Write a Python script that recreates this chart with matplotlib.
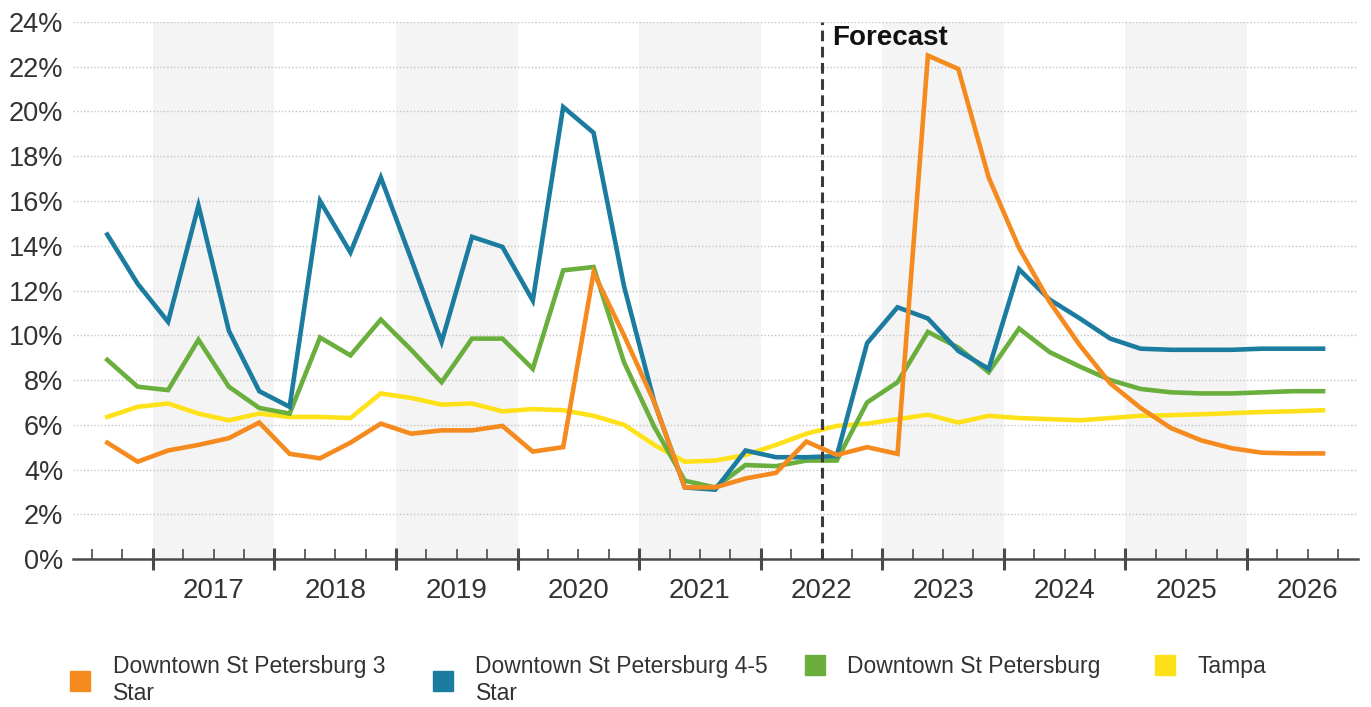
import numpy as np
import matplotlib.pyplot as plt
from matplotlib.lines import Line2D
from matplotlib.ticker import FixedLocator, FixedFormatter, NullFormatter, FuncFormatter

plt.rcParams['font.family'] = ['Liberation Sans', 'DejaVu Sans']

# quarterly vacancy, 2016 Q3 .. 2026 Q3
quarters = [f'{y} Q{q}' for y in range(2016, 2027) for q in range(1, 5)][2:43]

names = ['Downtown St Petersburg 3\nStar',
         'Downtown St Petersburg 4-5\nStar',
         'Downtown St Petersburg',
         'Tampa']
colors = ['#F58A1F', '#1B7CA0', '#6AAF3D', '#FFE11A']

star3 = [5.2, 4.35, 4.85, 5.1, 5.4, 6.1, 4.7, 4.5, 5.2, 6.05,
         5.6, 5.75, 5.75, 5.95, 4.8, 5.0, 12.8, 10.0, 7.0, 3.2,
         3.2, 3.6, 3.85, 5.25, 4.65, 5.0, 4.7, 22.5, 21.9, 17.05,
         13.9, 11.5, 9.55, 7.85, 6.75, 5.85, 5.3, 4.95, 4.75, 4.72, 4.72]
star45 = [14.5, 12.3, 10.6, 15.8, 10.2, 7.5, 6.8, 16.0, 13.7, 17.05,
          13.4, 9.7, 14.4, 13.95, 11.55, 20.2, 19.05, 12.2, 7.0, 3.2,
          3.1, 4.85, 4.55, 4.55, 4.6, 9.65, 11.25, 10.75, 9.3, 8.5,
          12.95, 11.6, 10.75, 9.85, 9.4, 9.35, 9.35, 9.35, 9.4, 9.4, 9.4]
downtown = [8.9, 7.7, 7.55, 9.8, 7.7, 6.75, 6.5, 9.9, 9.1, 10.7,
            9.35, 7.9, 9.85, 9.85, 8.5, 12.9, 13.05, 8.8, 5.9, 3.5,
            3.2, 4.2, 4.15, 4.4, 4.4, 7.0, 7.9, 10.15, 9.45, 8.35,
            10.3, 9.25, 8.6, 8.0, 7.6, 7.45, 7.4, 7.4, 7.45, 7.5, 7.5]
tampa = [6.35, 6.8, 6.95, 6.5, 6.2, 6.5, 6.35, 6.35, 6.3, 7.4,
         7.2, 6.9, 6.95, 6.6, 6.7, 6.65, 6.4, 6.0, 5.1, 4.35,
         4.4, 4.65, 5.1, 5.6, 5.95, 6.05, 6.25, 6.45, 6.1, 6.4,
         6.3, 6.25, 6.2, 6.3, 6.4, 6.43, 6.47, 6.52, 6.57, 6.6, 6.65]
series = [star3, star45, downtown, tampa]

years = list(range(2017, 2027))
forecast_start = '2022 Q3'

x = np.arange(len(quarters))
year_start = [quarters.index(f'{y} Q1') - 0.5 for y in years]

fig = plt.figure(figsize=(13.71, 7.07), dpi=100)
ax = fig.add_axes([0.0532, 0.2093, 0.9373, 0.7596])

# alternate year shading
for i, y0 in enumerate(year_start):
    if i % 2 == 0:
        ax.axvspan(y0, y0 + 4, color='#f4f4f4', zorder=0, lw=0)

for vals, c in zip(series[::-1], colors[::-1]):
    ax.plot(x, vals, color=c, lw=3.3, zorder=3, solid_joinstyle='miter')

fx = quarters.index(forecast_start) - 0.5
ax.axvline(fx, color='#3a3a3a', lw=2.2, ls=(0, (3.5, 1.8)), zorder=4)
ax.text(fx + 0.35, 23.85, 'Forecast', fontsize=20, fontweight='bold',
        va='top', ha='left', color='#111111', zorder=5)

ax.set_xlim(-1.13, 41.15)
ax.set_ylim(0, 24)
ax.set_yticks(np.arange(0, 25, 2))
ax.yaxis.set_major_formatter(FuncFormatter(lambda v, p: f'{v:.0f}%'))
ax.grid(axis='y', color='#c4c4c4', ls=(0, (1, 1.5)), lw=1.0, zorder=1)
ax.tick_params(axis='y', length=0, labelsize=19.5, labelcolor='#333333', pad=7)

# year boundaries as major ticks, quarters as minor ticks with year labels in the middle
ax.xaxis.set_major_locator(FixedLocator(year_start))
ax.xaxis.set_major_formatter(NullFormatter())
minor = [b for b in np.arange(-0.5, len(quarters), 1.0) if b not in year_start]
mid = {s + 2: str(y) for s, y in zip(year_start, years)}
ax.xaxis.set_minor_locator(FixedLocator(minor))
ax.xaxis.set_minor_formatter(FixedFormatter([mid.get(m, '') for m in minor]))
ax.tick_params(axis='x', which='major', direction='inout', length=16, width=2.2, color='#4a4a4a')
ax.tick_params(axis='x', which='minor', direction='in', length=7, width=1.2, color='#4a4a4a',
               labelsize=20, labelcolor='#333333', pad=14)

for s in ['top', 'right', 'left']:
    ax.spines[s].set_visible(False)
ax.spines['bottom'].set_color('#4a4a4a')
ax.spines['bottom'].set_linewidth(1.8)

# one legend per entry so that all labels hang from the same top line
legend_x = [0.0420, 0.3067, 0.5780, 0.8333]
for name, c, lx in zip(names, colors, legend_x):
    h = Line2D([], [], marker='s', ls='none', markersize=14, color=c)
    fig.legend([h], [name], loc='upper left', bbox_to_anchor=(lx, 0.0891),
               bbox_transform=fig.transFigure, frameon=False, fontsize=16.5,
               handlelength=1.0, handletextpad=0.9, borderpad=0,
               labelspacing=0.2, labelcolor='#333333')

fig.savefig('out.png', dpi=100, facecolor='white')
